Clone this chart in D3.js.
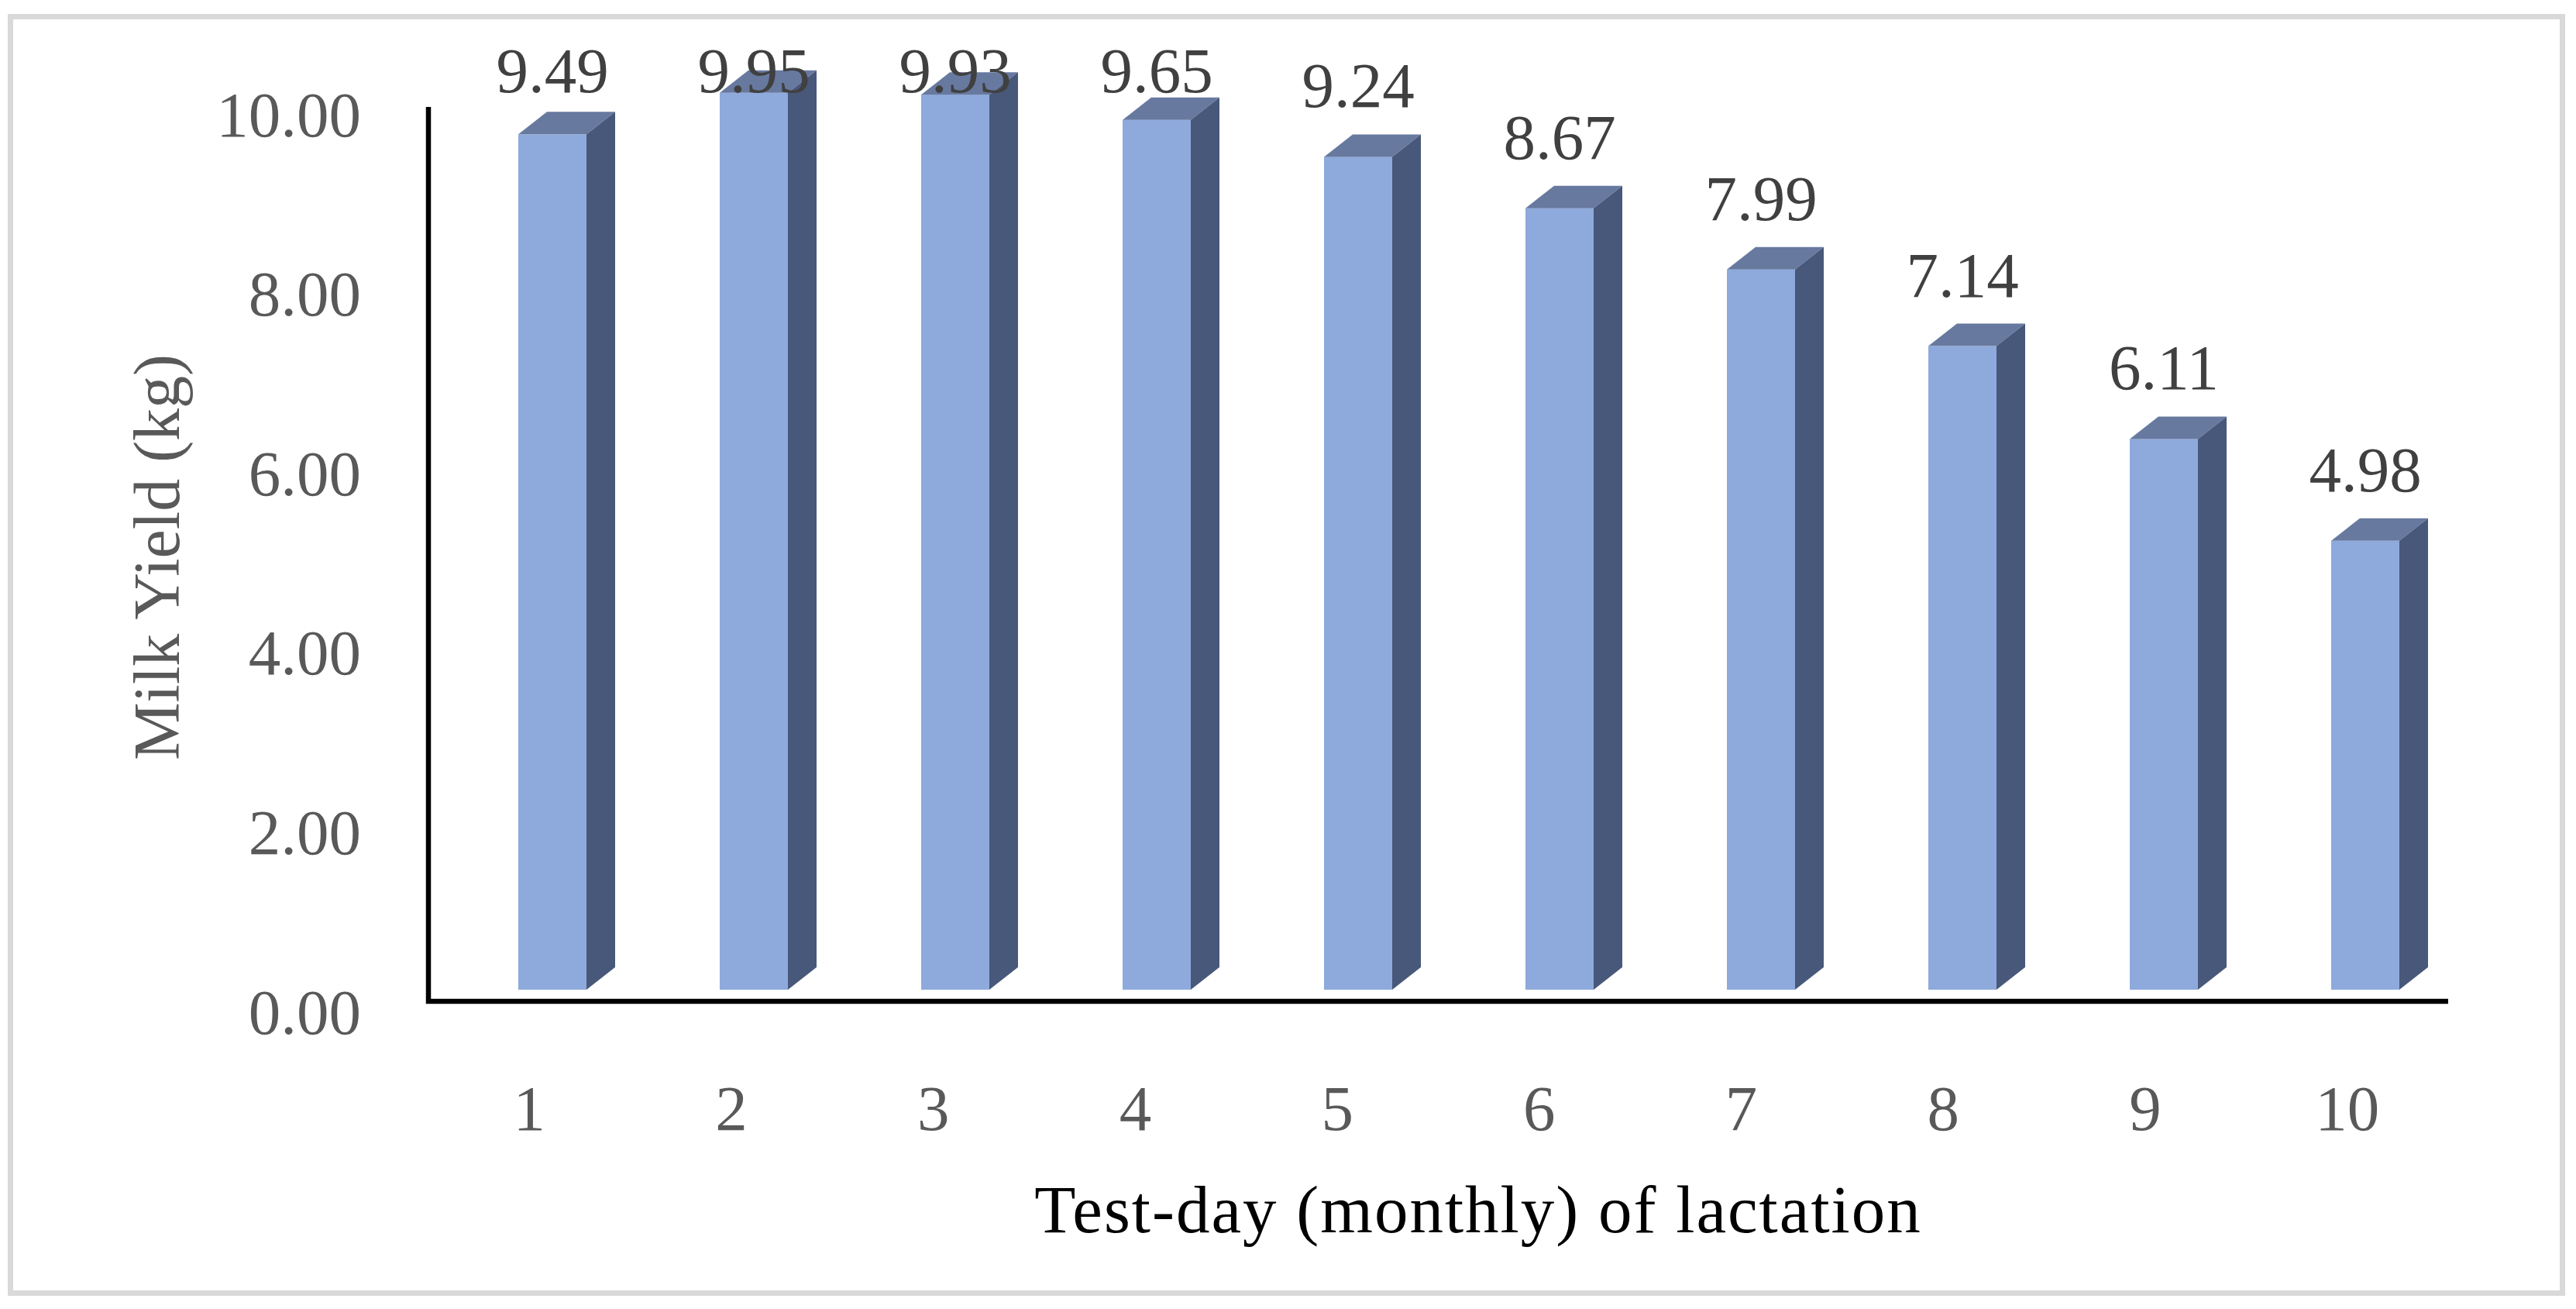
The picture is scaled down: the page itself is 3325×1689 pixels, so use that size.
<!DOCTYPE html>
<html>
<head>
<meta charset="utf-8">
<script src="https://cdn.jsdelivr.net/npm/d3@7"></script>
<style>
  html, body { margin: 0; padding: 0; background: #ffffff; }
  svg { display: block; }
</style>
</head>
<body>
<script>
// ---- Data ----
const categories = ["1", "2", "3", "4", "5", "6", "7", "8", "9", "10"];
const milkYield = [9.49, 9.95, 9.93, 9.65, 9.24, 8.67, 7.99, 7.14, 6.11, 4.98];
const yTicks = [0, 2, 4, 6, 8, 10];
const yTickLabels = ["0.00", "2.00", "4.00", "6.00", "8.00", "10.00"];
const xTitle = "Test-day (monthly) of lactation";
const yTitle = "Milk Yield (kg)";

// ---- Layout ----
const W = 3325, H = 1689;
const plotLeft = 553, plotRight = 3160, plotTop = 138, plotBottom = 1292;
const barW = 88, depthX = 37, depthY = 29;
const fontFam = "'Liberation Serif', 'Times New Roman', serif";

const svg = d3.select("body").append("svg")
  .attr("width", W).attr("height", H)
  .attr("viewBox", `0 0 ${W} ${H}`);

svg.append("rect").attr("x", 0).attr("y", 0).attr("width", W).attr("height", H).attr("fill", "#ffffff");
// outer chart border
svg.append("rect")
  .attr("x", 13.5).attr("y", 21.5).attr("width", 3294).attr("height", 1647)
  .attr("fill", "none").attr("stroke", "#d9d9d9").attr("stroke-width", 7);

// ---- Scales ----
const yBar = d3.scaleLinear().domain([0, 10]).range([1277, 1277 - 1163]);
const yTick = d3.scaleLinear().domain([0, 10]).range([1305, 147]);
const xAxisScale = d3.scaleBand().domain(categories).range([plotLeft, plotRight]);
const xBar = d3.scaleBand().domain(categories).range([583, 3183]);

// ---- Bars (pseudo 3D) ----
const data = categories.map((c, i) => ({ c, v: milkYield[i] }));
const bars = svg.append("g").selectAll("g.bar").data(data).join("g").attr("class", "bar");
bars.each(function(d) {
  const g = d3.select(this);
  const cx = xBar(d.c) + xBar.bandwidth() / 2;
  const xl = cx - barW / 2, xr = cx + barW / 2;
  const yt = yBar(d.v), yb = yBar(0);
  g.append("rect").attr("x", xl).attr("y", yt).attr("width", barW).attr("height", yb - yt)
    .attr("fill", "#8eaadc");
  g.append("path")
    .attr("d", `M${xl},${yt}L${xl + depthX},${yt - depthY}L${xr + depthX},${yt - depthY}L${xr},${yt}Z`)
    .attr("fill", "#67799f");
  g.append("path")
    .attr("d", `M${xr},${yt}L${xr + depthX},${yt - depthY}L${xr + depthX},${yb - depthY}L${xr},${yb}Z`)
    .attr("fill", "#48587a");
});

// ---- Axis lines ----
svg.append("path")
  .attr("d", `M${plotLeft},${plotTop}L${plotLeft},${plotBottom}L${plotRight},${plotBottom}`)
  .attr("fill", "none").attr("stroke", "#000000").attr("stroke-width", 6.5);

// ---- Y axis labels ----
const yAxis = d3.axisLeft(yTick).tickValues(yTicks).tickSize(0).tickPadding(0)
  .tickFormat((d, i) => yTickLabels[i]);
const gy = svg.append("g").attr("transform", "translate(466,0)").call(yAxis);
gy.select(".domain").remove();
gy.selectAll("text")
  .attr("dy", "28px")
  .attr("font-family", fontFam).attr("font-size", 83).attr("fill", "#595959");

// ---- X axis labels ----
const xAxis = d3.axisBottom(xAxisScale).tickSize(0).tickPadding(0);
const gx = svg.append("g").attr("transform", "translate(0,0)").call(xAxis);
gx.select(".domain").remove();
gx.selectAll("text")
  .attr("y", 1458).attr("dy", 0)
  .attr("font-family", fontFam).attr("font-size", 83).attr("fill", "#595959");

// ---- Data labels ----
svg.append("g").selectAll("text").data(data).join("text")
  .attr("x", d => xBar(d.c) + xBar.bandwidth() / 2)
  .attr("y", d => Math.max(yBar(d.v) - 64, 119))
  .attr("text-anchor", "middle")
  .attr("font-family", fontFam).attr("font-size", 83).attr("fill", "#404040")
  .text(d => d.v.toFixed(2));

// ---- Axis titles ----
svg.append("text")
  .attr("x", 1908).attr("y", 1590)
  .attr("text-anchor", "middle")
  .attr("font-family", fontFam).attr("font-size", 87).attr("letter-spacing", 2)
  .attr("fill", "#000000")
  .text(xTitle);

svg.append("text")
  .attr("transform", "translate(231,719) rotate(-90)")
  .attr("text-anchor", "middle")
  .attr("font-family", fontFam).attr("font-size", 84)
  .attr("fill", "#595959")
  .text(yTitle);
</script>
</body>
</html>
